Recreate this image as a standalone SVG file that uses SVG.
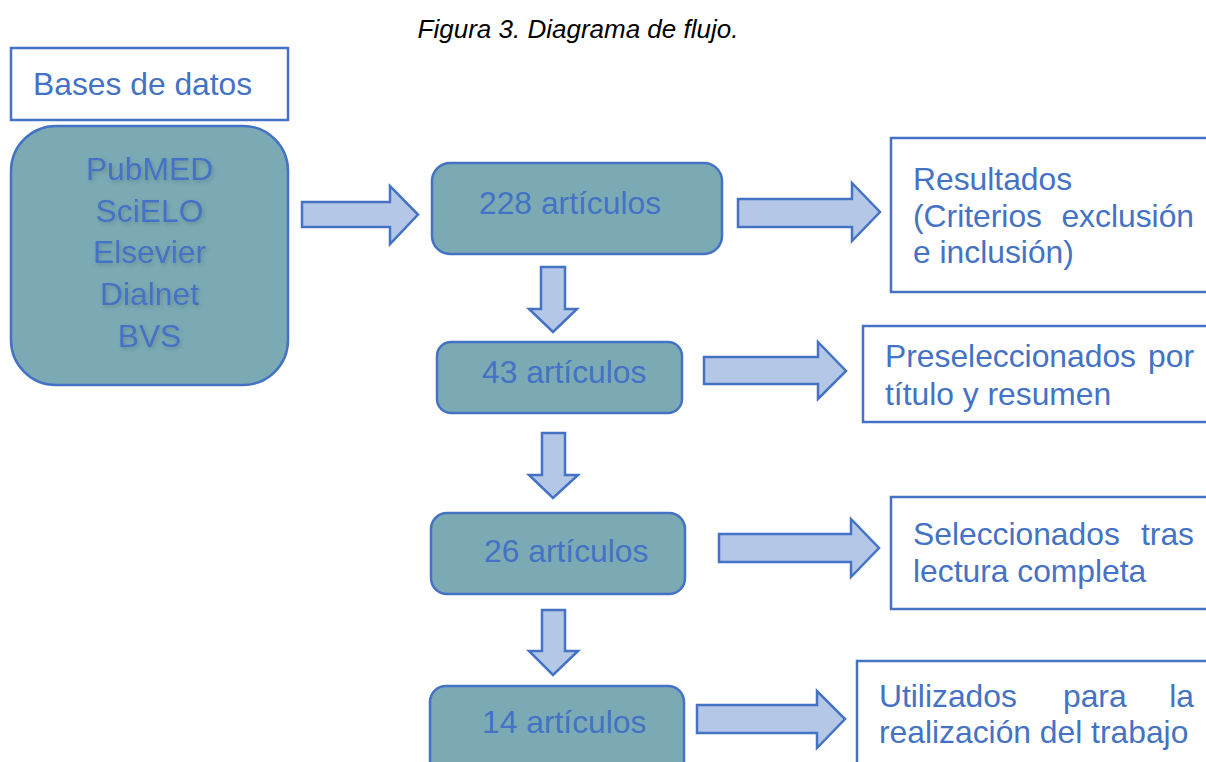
<svg xmlns="http://www.w3.org/2000/svg" width="1206" height="762" viewBox="0 0 1206 762">
<defs>
<style>
.t{font-family:"Liberation Sans",Arial,sans-serif;font-size:31.8px;fill:#4472C4}
.title{font-family:"Liberation Sans",Arial,sans-serif;font-size:26px;font-style:italic;fill:#000}
.box{fill:#7BAAB4;stroke:#4472C4;stroke-width:2.5}
.lab{fill:#fff;stroke:#4472C4;stroke-width:2.5}
.arr{fill:#B4C7E7;stroke:#4472C4;stroke-width:2.5;stroke-linejoin:miter}
</style>
<filter id="sh" x="-10%" y="-10%" width="130%" height="140%">
<feDropShadow dx="1.5" dy="2" stdDeviation="2" flood-color="#000" flood-opacity="0.18"/>
</filter>
</defs>
<rect width="1206" height="762" fill="#fff"/>
<text class="title" x="578" y="38" text-anchor="middle">Figura 3. Diagrama de flujo.</text>

<g id="connectors">
<polygon class="arr" points="302,202 390,202 390,186 418,214.5 390,244 390,227 302,227"/>
<polygon class="arr" points="738,199 852,199 852,183 880,212 852,241 852,227 738,227"/>
<polygon class="arr" points="704,357 818,357 818,342 846,371 818,399 818,384 704,384"/>
<polygon class="arr" points="719,534 851,534 851,519 879,548 851,577 851,562 719,562"/>
<polygon class="arr" points="697,705 817,705 817,691 845,719 817,748 817,733 697,733"/>
<polygon class="arr" points="541,267 565,267 565,309 577,309 553,332 529,309 541,309"/>
<polygon class="arr" points="542,433 565,433 565,475 578,475 553,498 529,475 542,475"/>
<polygon class="arr" points="542,610 565,610 565,651 578,651 553,675 529,651 542,651"/>
</g>

<g id="bases-label">
<rect class="lab" x="11" y="48" width="277" height="72"/>
<text class="t" x="33" y="95">Bases de datos</text>
</g>

<g id="bases">
<rect class="box" x="11" y="126" width="277" height="259" rx="45"/>
<g filter="url(#sh)">
<text class="t" x="149.5" y="180" text-anchor="middle">PubMED</text>
<text class="t" x="149.5" y="222" text-anchor="middle">SciELO</text>
<text class="t" x="149.5" y="263" text-anchor="middle">Elsevier</text>
<text class="t" x="149.5" y="305" text-anchor="middle">Dialnet</text>
<text class="t" x="149.5" y="347" text-anchor="middle">BVS</text>
</g>
</g>

<g id="n228">
<rect class="box" x="432" y="163" width="290" height="91" rx="18"/>
<text class="t" x="479" y="214">228 artículos</text>
</g>
<g id="n43">
<rect class="box" x="437" y="342" width="245" height="71" rx="14"/>
<text class="t" x="482" y="383">43 artículos</text>
</g>
<g id="n26">
<rect class="box" x="431" y="513" width="254" height="81" rx="16"/>
<text class="t" x="484" y="562">26 artículos</text>
</g>
<g id="n14">
<rect class="box" x="430" y="686" width="254" height="100" rx="16"/>
<text class="t" x="482" y="733">14 artículos</text>
</g>

<g id="resultados">
<rect class="lab" x="891" y="138" width="330" height="154"/>
<text class="t" x="913" y="190">Resultados</text>
<text class="t" x="913" y="227">(Criterios</text>
<text class="t" x="1194" y="227" text-anchor="end">exclusión</text>
<text class="t" x="913" y="263">e inclusión)</text>
</g>
<g id="preseleccionados">
<rect class="lab" x="863" y="326" width="360" height="96"/>
<text class="t" x="885" y="367">Preseleccionados</text>
<text class="t" x="1194" y="367" text-anchor="end">por</text>
<text class="t" x="885" y="405">título y resumen</text>
</g>
<g id="seleccionados">
<rect class="lab" x="891" y="497" width="330" height="112"/>
<text class="t" x="913" y="545">Seleccionados</text>
<text class="t" x="1194" y="545" text-anchor="end">tras</text>
<text class="t" x="913" y="582">lectura completa</text>
</g>
<g id="utilizados">
<rect class="lab" x="857" y="661" width="370" height="130"/>
<text class="t" x="879" y="707">Utilizados</text>
<text class="t" x="1063" y="707">para</text>
<text class="t" x="1194" y="707" text-anchor="end">la</text>
<text class="t" x="879" y="743">realización del trabajo</text>
</g>
</svg>
